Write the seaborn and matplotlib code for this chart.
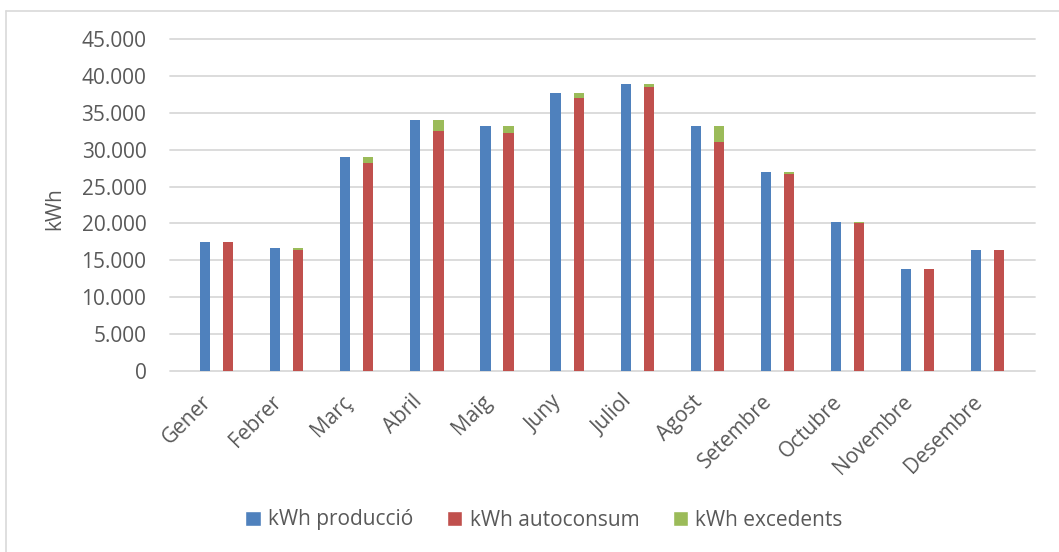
import numpy as np
import pandas as pd
import seaborn as sns
import matplotlib.pyplot as plt
from matplotlib.patches import Patch
from matplotlib.lines import Line2D

# Monthly energy balance (kWh)
mesos = ["Gener", "Febrer", "Març", "Abril", "Maig", "Juny",
         "Juliol", "Agost", "Setembre", "Octubre", "Novembre", "Desembre"]
produccio = [17520, 16630, 29050, 33980, 33160, 37640,
             38860, 33200, 26970, 20240, 13870, 16400]
autoconsum = [17500, 16400, 28150, 32570, 32300, 36960,
              38540, 31080, 26740, 20100, 13870, 16400]
excedents = [20, 230, 900, 1410, 860, 680,
             320, 2120, 230, 140, 0, 0]
y_ticks = [0, 5000, 10000, 15000, 20000, 25000, 30000, 35000, 40000, 45000]
y_tick_labels = ["0", "5.000", "10.000", "15.000", "20.000", "25.000",
                 "30.000", "35.000", "40.000", "45.000"]

BLUE = "#4F81BD"
RED = "#C0504D"
GREEN = "#9BBB59"
GRID = "#D9D9D9"
TEXT = "#595959"

sns.set_theme(style="white")
plt.rcParams["font.family"] = ["Open Sans", "DejaVu Sans"]

W, H = 1059, 552
fig = plt.figure(figsize=(W / 100, H / 100), dpi=100)
ax = fig.add_axes([170 / W, 1 - 371 / H, 865 / W, 332 / H])

df = pd.DataFrame({
    "pos": np.arange(len(mesos), dtype=float),
    "produccio": produccio,
    "autoconsum": autoconsum,
    "excedents": excedents,
})
df["total_stack"] = df["autoconsum"] + df["excedents"]
offset = 0.33
bar_w = 0.145

# production bar
sns.barplot(x=df["pos"], y=df["produccio"], native_scale=True, orient="x",
            width=bar_w, color=BLUE, saturation=1, errorbar=None,
            linewidth=0, ax=ax)
# self-consumption with the surplus stacked on top
sns.barplot(x=df["pos"] + offset, y=df["total_stack"], native_scale=True, orient="x",
            width=bar_w, color=GREEN, saturation=1, errorbar=None,
            linewidth=0, ax=ax)
sns.barplot(x=df["pos"] + offset, y=df["autoconsum"], native_scale=True, orient="x",
            width=bar_w, color=RED, saturation=1, errorbar=None,
            linewidth=0, ax=ax)

ax.set_xlim(-0.5, 11.84)
ax.set_ylim(0, 45000)
ax.set_yticks(y_ticks)
ax.set_yticklabels(y_tick_labels)
ax.set_xticks(df["pos"] + 0.05)
ax.set_xticklabels(mesos, rotation=45, ha="right", va="center",
                   rotation_mode="anchor")
ax.set_xlabel("")
ax.set_ylabel("")
ax.tick_params(axis="y", length=0, pad=17, labelsize=15, labelcolor=TEXT)
ax.tick_params(axis="x", length=0, pad=20, labelsize=15, labelcolor=TEXT)

ax.yaxis.grid(True, color=GRID, lw=1.3)
ax.set_axisbelow(True)
for gl in ax.get_ygridlines():
    gl.set_clip_on(False)
for s in ax.spines.values():
    s.set_visible(False)

fig.text(55 / W, 1 - 209 / H, "kWh", rotation=90, ha="center", va="center",
         fontsize=15, color=TEXT)

handles = [Patch(facecolor=BLUE), Patch(facecolor=RED), Patch(facecolor=GREEN)]
labels = ["kWh producció", "kWh autoconsum", "kWh excedents"]
fig.legend(handles, labels, loc="center", bbox_to_anchor=(544 / W, 1 - 520 / H),
           ncol=3, frameon=False, fontsize=15, labelcolor=TEXT,
           handlelength=0.75, handleheight=0.75, handletextpad=0.35,
           columnspacing=1.6)

# chart-area frame (left and top edges)
fig.add_artist(Line2D([6 / W, 6 / W], [0, 1 - 11 / H], transform=fig.transFigure,
                      color=GRID, lw=1.2))
fig.add_artist(Line2D([6 / W, 1], [1 - 11 / H, 1 - 11 / H], transform=fig.transFigure,
                      color=GRID, lw=1.2))

fig.savefig("out.png", dpi=100)
